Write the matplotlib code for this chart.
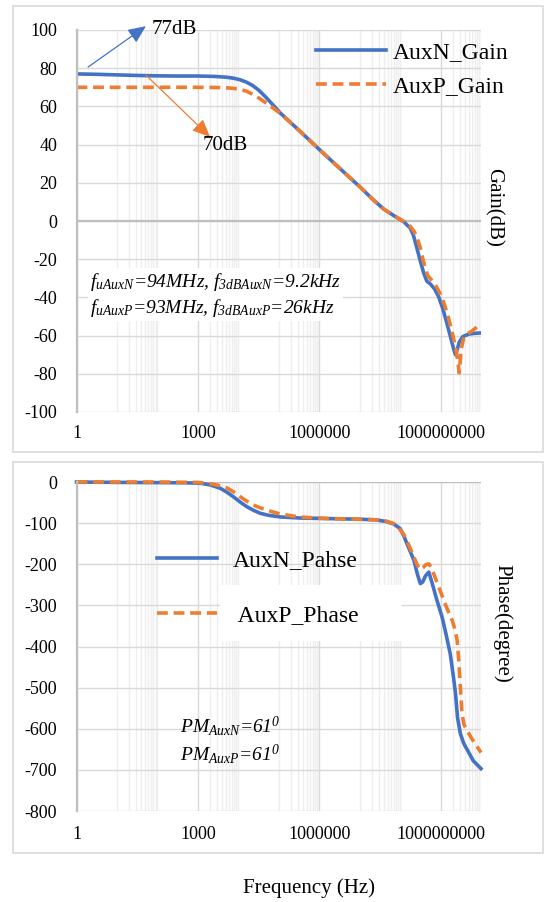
import numpy as np
import matplotlib.pyplot as plt
from matplotlib.patches import Rectangle

plt.rcParams['font.family'] = ['Liberation Serif', 'DejaVu Serif']
plt.rcParams['mathtext.fontset'] = 'custom'
plt.rcParams['mathtext.it'] = 'Liberation Serif:italic'
plt.rcParams['mathtext.rm'] = 'Liberation Serif:italic'
plt.rcParams['axes.unicode_minus'] = False

BLUE = '#4472C4'
ORANGE = '#ED7D31'

# frecuencias como log10(Hz)
gain_n_logf = [0.0, 0.5, 1.0, 1.5, 2.0, 2.5, 3.0, 3.4, 3.7, 3.9, 4.05, 4.2, 4.35, 4.5,
               4.65, 4.8, 5.04, 5.5, 6.0, 6.5, 7.0, 7.34, 7.6, 7.83, 8.0, 8.1, 8.25,
               8.33, 8.40, 8.50, 8.58, 8.66, 8.75, 8.85, 8.95, 9.05, 9.15, 9.25, 9.33,
               9.37, 9.41, 9.46, 9.55, 9.7, 9.85, 10.0]
gain_n_db = [77.0, 76.8, 76.5, 76.2, 76.0, 75.9, 75.9, 75.7, 75.3, 74.7, 73.9, 72.7, 71.0, 68.6,
             65.5, 62.1, 56.5, 47.5, 37.5, 27.7, 18.0, 11.0, 6.2, 3.0, 0.8, -0.6, -3.7,
             -7.5, -13.0, -21.0, -27.0, -31.5, -33.0, -35.5, -39.5, -45.5, -53.0, -61.0, -67.5,
             -70.0, -67.5, -63.5, -60.5, -59.2, -58.8, -58.6]

gain_p_logf = [0.0, 1.0, 2.0, 3.0, 3.5, 3.8, 4.0, 4.2, 4.37, 4.55, 4.72, 5.04, 5.5, 6.0,
               6.5, 7.0, 7.34, 7.6, 7.83, 8.0, 8.1, 8.25, 8.35, 8.43, 8.5, 8.58, 8.68,
               8.78, 8.9, 9.0, 9.1, 9.2, 9.3, 9.38, 9.43, 9.46, 9.48, 9.51, 9.57, 9.65,
               9.75, 9.87, 10.0]
gain_p_db = [70.0, 70.0, 70.0, 70.0, 69.9, 69.6, 69.1, 68.0, 66.2, 63.8, 61.3, 56.3, 47.5, 37.5,
             27.7, 18.0, 11.0, 6.2, 3.0, 0.9, -0.4, -2.8, -5.5, -9.5, -14.0, -21.5, -28.5,
             -31.0, -34.5, -38.5, -44.0, -51.0, -59.5, -67.0, -74.0, -79.5, -75.0, -67.0, -61.5, -59.2,
             -58.0, -56.0, -54.0]

phase_n_logf = [0.0, 1.0, 2.0, 2.7, 3.06, 3.3, 3.55, 3.72, 3.88, 4.05, 4.21, 4.38, 4.54, 4.75,
                5.04, 5.5, 6.0, 6.5, 7.0, 7.4, 7.65, 7.84, 8.0, 8.09, 8.2, 8.34, 8.43, 8.50,
                8.56, 8.63, 8.71, 8.79, 8.9, 9.04, 9.14, 9.24, 9.32, 9.37, 9.42, 9.49, 9.57,
                9.67, 9.81, 10.0]
phase_n_deg = [0, -1, -1.5, -2, -3, -7, -15, -25, -36, -49, -60, -69, -76, -81,
               -85, -87.5, -88.5, -89.5, -90.5, -92, -96, -102, -113, -131, -157, -190, -225, -247,
               -243, -228, -219, -245, -284, -329, -372, -418, -475, -515, -573, -612, -635,
               -653, -678, -697]

phase_p_logf = [0.0, 1.0, 2.0, 3.0, 3.3, 3.5, 3.73, 3.9, 4.05, 4.2, 4.37, 4.55, 4.72, 5.04,
                5.5, 6.0, 6.5, 7.0, 7.4, 7.65, 7.84, 8.0, 8.09, 8.2, 8.34, 8.43, 8.50, 8.57,
                8.64, 8.71, 8.77, 8.83, 8.95, 9.08, 9.18, 9.29, 9.36, 9.41, 9.45, 9.49, 9.53,
                9.58, 9.66, 9.76, 9.86, 10.0]
phase_p_deg = [0, 0, 0, -1, -4, -8, -15, -25, -36, -46, -56, -63, -69, -78,
               -85, -88, -89.5, -90.5, -92, -95, -101, -116, -127, -150, -182, -203, -213, -208,
               -201, -199, -208, -223, -254, -288, -312, -337, -360, -385, -434, -499, -564,
               -590, -605, -622, -637, -658]

x_ticks = [1, 1e3, 1e6, 1e9]
x_ticklabels = ['1', '1000', '1000000', '1000000000']
# lineas de rejilla menores que se ven en la figura (decadas impares)
minor_grid = [m * 10.0 ** d for d in (1, 3, 5, 7, 9) for m in range(1, 11)
              if m * 10.0 ** d not in x_ticks]

W, H = 548, 902
fig = plt.figure(figsize=(W / 100, H / 100), dpi=100)


def px_rect(x0, y0, x1, y1):
    return (x0 / W, 1 - y1 / H, (x1 - x0) / W, (y1 - y0) / H)


def style_axes(ax):
    ax.set_xscale('log')
    ax.set_xlim(1, 1e10)
    ax.set_xticks(x_ticks)
    ax.set_xticklabels(x_ticklabels)
    ax.set_xticks(minor_grid, minor=True)
    ax.set_xticklabels([], minor=True)
    ax.grid(True, which='major', color='#d9d9d9', lw=1.0)
    ax.grid(True, which='minor', axis='x', color='#eeeeee', lw=1.0)
    ax.set_axisbelow(True)
    for s in ['top', 'right', 'bottom']:
        ax.spines[s].set_visible(False)
    ax.spines['left'].set_color('#bfbfbf')
    ax.spines['left'].set_linewidth(1.6)
    ax.tick_params(which='both', length=0, labelsize=13)
    ax.axhline(0, color='#bfbfbf', lw=1.6, zorder=1)


# cajas de fondo
for r in [(13, 6, 543, 452), (13, 462, 543, 853)]:
    x0, y0, w, h = px_rect(*r)
    fig.add_artist(Rectangle((x0, y0), w, h, transform=fig.transFigure,
                             fill=False, ec='#d9d9d9', lw=1.2))

# ---- Ganancia ----
ax1 = fig.add_axes(px_rect(76.5, 30, 481, 412))
style_axes(ax1)
ax1.set_ylim(-100, 100)
ax1.set_yticks(np.arange(-100, 101, 20))
ax1.tick_params(axis='y', pad=14)
ax1.tick_params(axis='x', pad=9)
ax1.plot(10 ** np.array(gain_n_logf), gain_n_db, color=BLUE, lw=2.6, label='AuxN_Gain')
ax1.plot(10 ** np.array(gain_p_logf), gain_p_db, color=ORANGE, lw=2.6, dashes=(3, 1.6),
         label='AuxP_Gain')
ax1.legend(loc='upper left', bbox_to_anchor=(0.592, 0.970), frameon=False, fontsize=17,
           borderpad=0, borderaxespad=0, handlelength=2.97, handletextpad=0.3,
           labelspacing=0.55)

ax1.annotate('', xy=(52, 102), xytext=(1.93, 80.6), annotation_clip=False,
             arrowprops=dict(arrowstyle='-|>,head_length=0.9,head_width=0.4', color=BLUE,
                             lw=0.9, mutation_scale=12, shrinkA=0, shrinkB=0))
ax1.text(74, 100, '77dB', fontsize=15, va='center', ha='left', clip_on=False)
ax1.annotate('', xy=(2000, 44), xytext=(52, 76.4),
             arrowprops=dict(arrowstyle='-|>,head_length=0.9,head_width=0.4', color=ORANGE,
                             lw=0.9, mutation_scale=12, shrinkA=0, shrinkB=0))
ax1.text(1350, 39.3, '70dB', fontsize=15, va='center', ha='left')

ax1.text(2.16, -38.5,
         '$f_{uAuxN}$=94MHz, $f_{3dBAuxN}$=9.2kHz\n$f_{uAuxP}$=93MHz, $f_{3dBAuxP}$=26kHz',
         fontsize=14, fontstyle='italic', va='center', ha='left', linespacing=1.25,
         bbox=dict(fc='white', ec='none', pad=1.5), zorder=1.8)

# ---- Fase ----
ax2 = fig.add_axes(px_rect(76.5, 482, 481, 811))
style_axes(ax2)
ax2.set_ylim(-800, 0)
ax2.set_yticks(np.arange(-800, 1, 100))
ax2.tick_params(axis='y', pad=14)
ax2.tick_params(axis='x', pad=11)
ax2.plot(10 ** np.array(phase_n_logf), phase_n_deg, color=BLUE, lw=2.6, label='AuxN_Pahse',
         clip_on=False)
ax2.plot(10 ** np.array(phase_p_logf), phase_p_deg, color=ORANGE, lw=2.6, dashes=(3, 1.6),
         label=' AuxP_Phase', clip_on=False)
ax2.add_patch(Rectangle((0.355, 0.518), 0.45, 0.168, transform=ax2.transAxes,
                        fc='white', ec='none', zorder=1.5))
ax2.legend(loc='upper left', bbox_to_anchor=(0.199, 0.794), frameon=False, fontsize=17,
           borderpad=0, borderaxespad=0, handlelength=2.54, handletextpad=0.68,
           labelspacing=1.40)
ax2.text(365, -628, '$PM_{AuxN}$=61$^{0}$\n$PM_{AuxP}$=61$^{0}$', fontsize=14,
         fontstyle='italic', va='center', ha='left', linespacing=1.25)

fig.text(493 / W, 1 - 207 / H, 'Gain(dB)', rotation=270, ha='center', va='center', fontsize=15)
fig.text(502 / W, 1 - 623 / H, 'Phase(degree)', rotation=270, ha='center', va='center',
         fontsize=15)
fig.text(309 / W, 1 - 888 / H, 'Frequency (Hz)', ha='center', va='center', fontsize=15)

fig.savefig('out.png', dpi=100)
